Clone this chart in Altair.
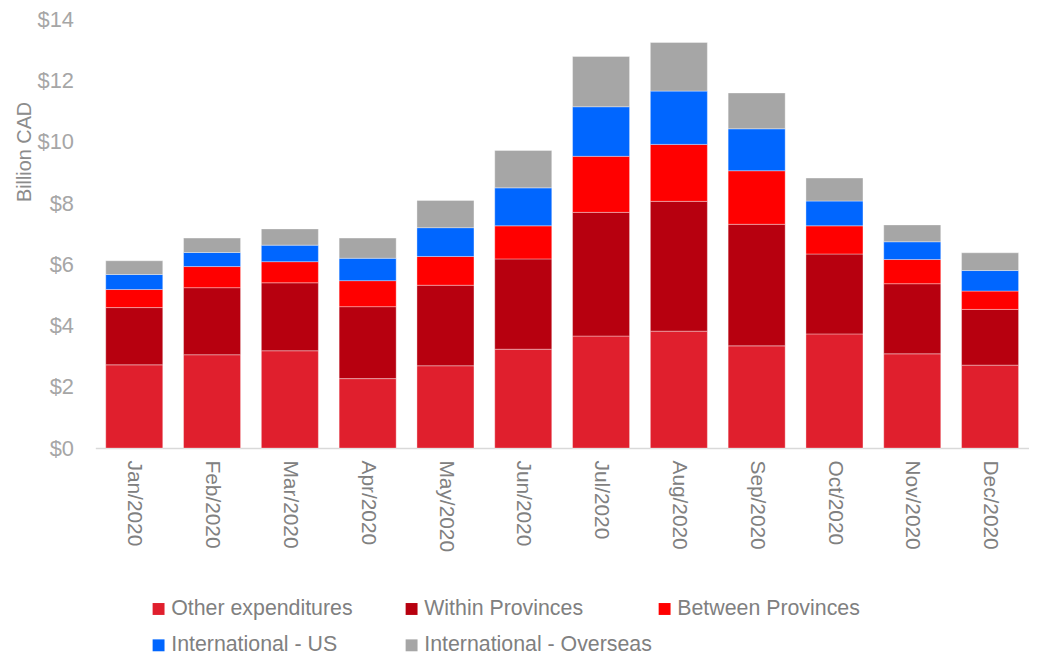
import altair as alt
import pandas as pd

months = ["Jan/2020", "Feb/2020", "Mar/2020", "Apr/2020", "May/2020", "Jun/2020",
          "Jul/2020", "Aug/2020", "Sep/2020", "Oct/2020", "Nov/2020", "Dec/2020"]
series = ["Other expenditures", "Within Provinces", "Between Provinces",
          "International - US", "International - Overseas"]
colors = ["#E01F2D", "#B7000F", "#FF0000", "#0066FF", "#A6A6A6"]

other = [2.72, 3.05, 3.18, 2.27, 2.69, 3.23, 3.66, 3.82, 3.34, 3.73, 3.08, 2.71]
within = [1.87, 2.19, 2.22, 2.35, 2.63, 2.95, 4.04, 4.24, 3.97, 2.61, 2.29, 1.82]
between = [0.59, 0.69, 0.69, 0.85, 0.94, 1.08, 1.83, 1.86, 1.75, 0.92, 0.79, 0.60]
intl_us = [0.49, 0.46, 0.54, 0.73, 0.94, 1.24, 1.62, 1.74, 1.37, 0.81, 0.58, 0.67]
overseas = [0.45, 0.47, 0.53, 0.66, 0.89, 1.22, 1.64, 1.59, 1.17, 0.75, 0.55, 0.58]

values = [other, within, between, intl_us, overseas]
rows = []
for si, (name, vals) in enumerate(zip(series, values)):
    for m, v in zip(months, vals):
        rows.append({"month": m, "series": name, "value": v, "idx": si})
df = pd.DataFrame(rows)

FONT = "Liberation Sans"

chart = alt.Chart(df).mark_bar(
    stroke="white", strokeWidth=0.6, strokeOpacity=0.6
).encode(
    x=alt.X("month:N", sort=months,
            scale=alt.Scale(paddingInner=0.267, paddingOuter=0.134),
            axis=alt.Axis(title=None, labelAngle=90, labelAlign="left",
                          labelBaseline="middle", labelPadding=12,
                          labelFontSize=21, labelColor="#808080", labelFont=FONT,
                          ticks=False, domainColor="#D9D9D9", domainWidth=1.5,
                          grid=False)),
    y=alt.Y("value:Q", stack="zero",
            scale=alt.Scale(domain=[0, 14], nice=False),
            axis=alt.Axis(title="Billion CAD", values=[0, 2, 4, 6, 8, 10, 12, 14],
                          labelExpr="'$' + datum.value",
                          labelFontSize=22, labelColor="#A6A6A6", labelFont=FONT,
                          labelPadding=22, ticks=False, domain=False, grid=False,
                          titleFont=FONT, titleFontSize=20, titleFontWeight="normal",
                          titleColor="#8C8C8C", titleAngle=-90,
                          titleX=-71, titleY=133, titleAlign="center",
                          titleBaseline="middle")),
    color=alt.Color("series:N",
                    scale=alt.Scale(domain=series, range=colors),
                    legend=alt.Legend(title=None, orient="none", legendX=53, legendY=583,
                                      direction="horizontal", columns=3,
                                      gridAlign="all", columnPadding=2, rowPadding=14,
                                      symbolType="square", symbolSize=144,
                                      symbolStrokeWidth=0, labelOffset=2,
                                      labelFontSize=21.5, labelColor="#808080",
                                      labelFont=FONT, labelLimit=400)),
    order=alt.Order("idx:Q", sort="ascending"),
).properties(
    width=941, height=432,
    autosize=alt.AutoSizeParams(type="none"),
    padding={"left": 88, "top": 9, "right": 0, "bottom": 215},
).configure_view(stroke=None)

chart.save("out.html", embed_options={"renderer": "svg", "actions": False})
